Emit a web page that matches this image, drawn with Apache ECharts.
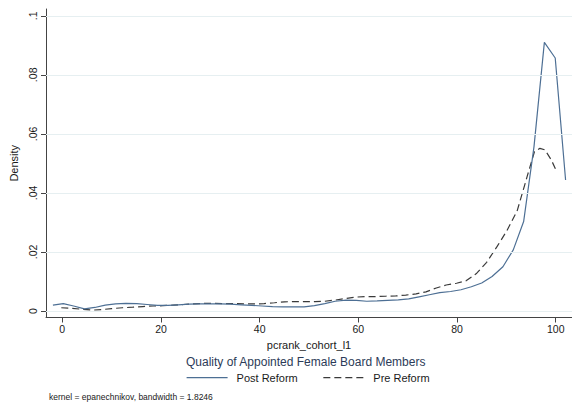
<!DOCTYPE html>
<html><head><meta charset="utf-8">
<script src="https://cdn.jsdelivr.net/npm/echarts@6/dist/echarts.min.js"></script>
<style>html,body{margin:0;padding:0;background:#fff}#c{width:572px;height:406px}</style>
</head><body><div id="c"></div>
<script>
const seriesNames = ['Post Reform', 'Pre Reform'];
const postX = [-1.9, 0.2, 2.3, 4.5, 6.6, 8.7, 10.8, 12.9, 15.1, 17.2, 19.3, 21.4, 23.5, 25.7, 27.8, 29.9, 32.0, 34.1, 36.3, 38.4, 40.5, 42.6, 44.7, 46.9, 49.0, 51.1, 53.2, 55.3, 57.5, 59.6, 61.7, 63.8, 65.9, 68.1, 70.2, 72.3, 74.4, 76.5, 78.7, 80.8, 82.9, 85.0, 87.1, 89.3, 91.4, 93.5, 95.6, 97.7, 99.9, 102.0];
const postY = [0.0020, 0.0025, 0.0017, 0.0007, 0.0012, 0.0020, 0.0024, 0.0026, 0.0025, 0.0022, 0.0019, 0.0019, 0.0021, 0.0023, 0.0024, 0.0024, 0.0024, 0.0023, 0.0021, 0.0019, 0.0017, 0.0015, 0.0014, 0.0014, 0.0014, 0.0018, 0.0025, 0.0033, 0.0037, 0.0036, 0.0033, 0.0034, 0.0036, 0.0038, 0.0041, 0.0048, 0.0055, 0.0062, 0.0066, 0.0072, 0.0082, 0.0095, 0.0117, 0.0150, 0.0207, 0.0303, 0.0557, 0.0910, 0.0857, 0.0444];
const preX = [-0.2, 2.0, 4.0, 6.1, 8.0, 10.0, 12.2, 14.3, 16.3, 18.4, 20.4, 22.5, 24.5, 26.6, 28.6, 30.7, 32.7, 34.8, 36.8, 38.9, 40.9, 43.0, 45.0, 47.1, 49.1, 51.2, 53.2, 55.3, 57.3, 59.4, 61.4, 63.5, 65.5, 67.6, 69.6, 71.7, 73.7, 75.8, 77.8, 79.9, 81.9, 84.0, 86.0, 88.1, 90.1, 92.2, 94.2, 95.7, 96.8, 97.8, 99.1, 100.1];
const preY = [0.0011, 0.0009, 0.0006, 0.0003, 0.0005, 0.0008, 0.0011, 0.0013, 0.0015, 0.0017, 0.0018, 0.0020, 0.0022, 0.0024, 0.0026, 0.0026, 0.0025, 0.0025, 0.0024, 0.0024, 0.0025, 0.0028, 0.0031, 0.0032, 0.0032, 0.0032, 0.0033, 0.0037, 0.0042, 0.0047, 0.0049, 0.0049, 0.0050, 0.0051, 0.0054, 0.0058, 0.0065, 0.0078, 0.0088, 0.0094, 0.0103, 0.0128, 0.0165, 0.0218, 0.0272, 0.0340, 0.0455, 0.0540, 0.0551, 0.0546, 0.0512, 0.0476];
const xTicks = [0, 20, 40, 60, 80, 100];
const yTicks = [0, 0.02, 0.04, 0.06, 0.08, 0.1];
const yTickLabels = ['0', '.02', '.04', '.06', '.08', '.1'];
const xTitle = 'pcrank_cohort_l1';
const yTitle = 'Density';
const legendTitle = 'Quality of Appointed Female Board Members';
const note = 'kernel = epanechnikov, bandwidth = 1.8246';

const FONT = '"Liberation Sans", Arial, sans-serif';
const chart = echarts.init(document.getElementById('c'), null, {renderer: 'svg'});
const zip = (xs, ys) => xs.map((x, i) => [x, ys[i]]);

chart.setOption({
  animation: false,
  backgroundColor: '#fff',
  textStyle: {fontFamily: FONT},
  title: [
    {text: legendTitle, left: 186, top: 356, textStyle: {fontSize: 12, fontWeight: 'normal', color: '#2c3b58', fontFamily: FONT}, padding: 0},
    {text: note, left: 49, top: 392, textStyle: {fontSize: 8.5, fontWeight: 'normal', color: '#1a1a1a', fontFamily: FONT}, padding: 0}
  ],
  legend: {
    data: seriesNames,
    left: 186, top: 372,
    itemWidth: 41, itemHeight: 14, itemGap: 25,
    padding: 0,
    itemStyle: {opacity: 0},
    lineStyle: {width: 1.2},
    textStyle: {fontSize: 11, color: '#1a1a1a', fontFamily: FONT, padding: [0, 0, 0, 4]}
  },
  grid: {left: 46, right: 0, top: 9, bottom: 88.5, containLabel: false, outerBoundsMode: 'none'},
  xAxis: {
    type: 'value', min: -3.3, max: 103.3,
    name: xTitle, nameLocation: 'middle', nameGap: 21,
    nameTextStyle: {fontSize: 11, color: '#1a1a1a', fontFamily: FONT},
    axisLine: {onZero: false, lineStyle: {color: '#444', width: 1}},
    axisTick: {show: true, length: 5, customValues: xTicks, lineStyle: {color: '#444'}},
    axisLabel: {customValues: xTicks, fontSize: 10.5, color: '#1a1a1a', margin: 6, fontFamily: FONT},
    splitLine: {show: false}
  },
  yAxis: {
    type: 'value', min: -0.0022, max: 0.1023,
    name: yTitle, nameLocation: 'middle', nameGap: 26, nameRotate: 90,
    nameTextStyle: {fontSize: 11, color: '#1a1a1a', fontFamily: FONT},
    axisLine: {show: true, onZero: false, lineStyle: {color: '#444', width: 1}},
    axisTick: {show: true, length: 5, customValues: yTicks, lineStyle: {color: '#444'}},
    axisLabel: {customValues: yTicks, rotate: 90, fontSize: 10.5, color: '#1a1a1a', margin: 8, fontFamily: FONT,
      formatter: v => yTickLabels[yTicks.findIndex(t => Math.abs(t - v) < 1e-9)]},
    splitLine: {show: false}
  },
  series: [
    {
      name: '_grid', type: 'line', data: [], z: 1, silent: true,
      markLine: {silent: true, symbol: 'none', label: {show: false}, animation: false,
        lineStyle: {color: '#e6eff1', type: 'solid', width: 1},
        data: yTicks.map(v => ({yAxis: v}))}
    },
    {
      name: seriesNames[0], type: 'line', data: zip(postX, postY), z: 3,
      symbol: 'none', smooth: false,
      lineStyle: {color: '#4d6f94', width: 1.2, type: 'solid'},
      itemStyle: {color: '#4d6f94'}
    },
    {
      name: seriesNames[1], type: 'line', data: zip(preX, preY), z: 2,
      symbol: 'none', smooth: false,
      lineStyle: {color: '#3a3a3a', width: 1.2, type: [7, 4]},
      itemStyle: {color: '#3a3a3a'}
    }
  ]
});
</script></body></html>
